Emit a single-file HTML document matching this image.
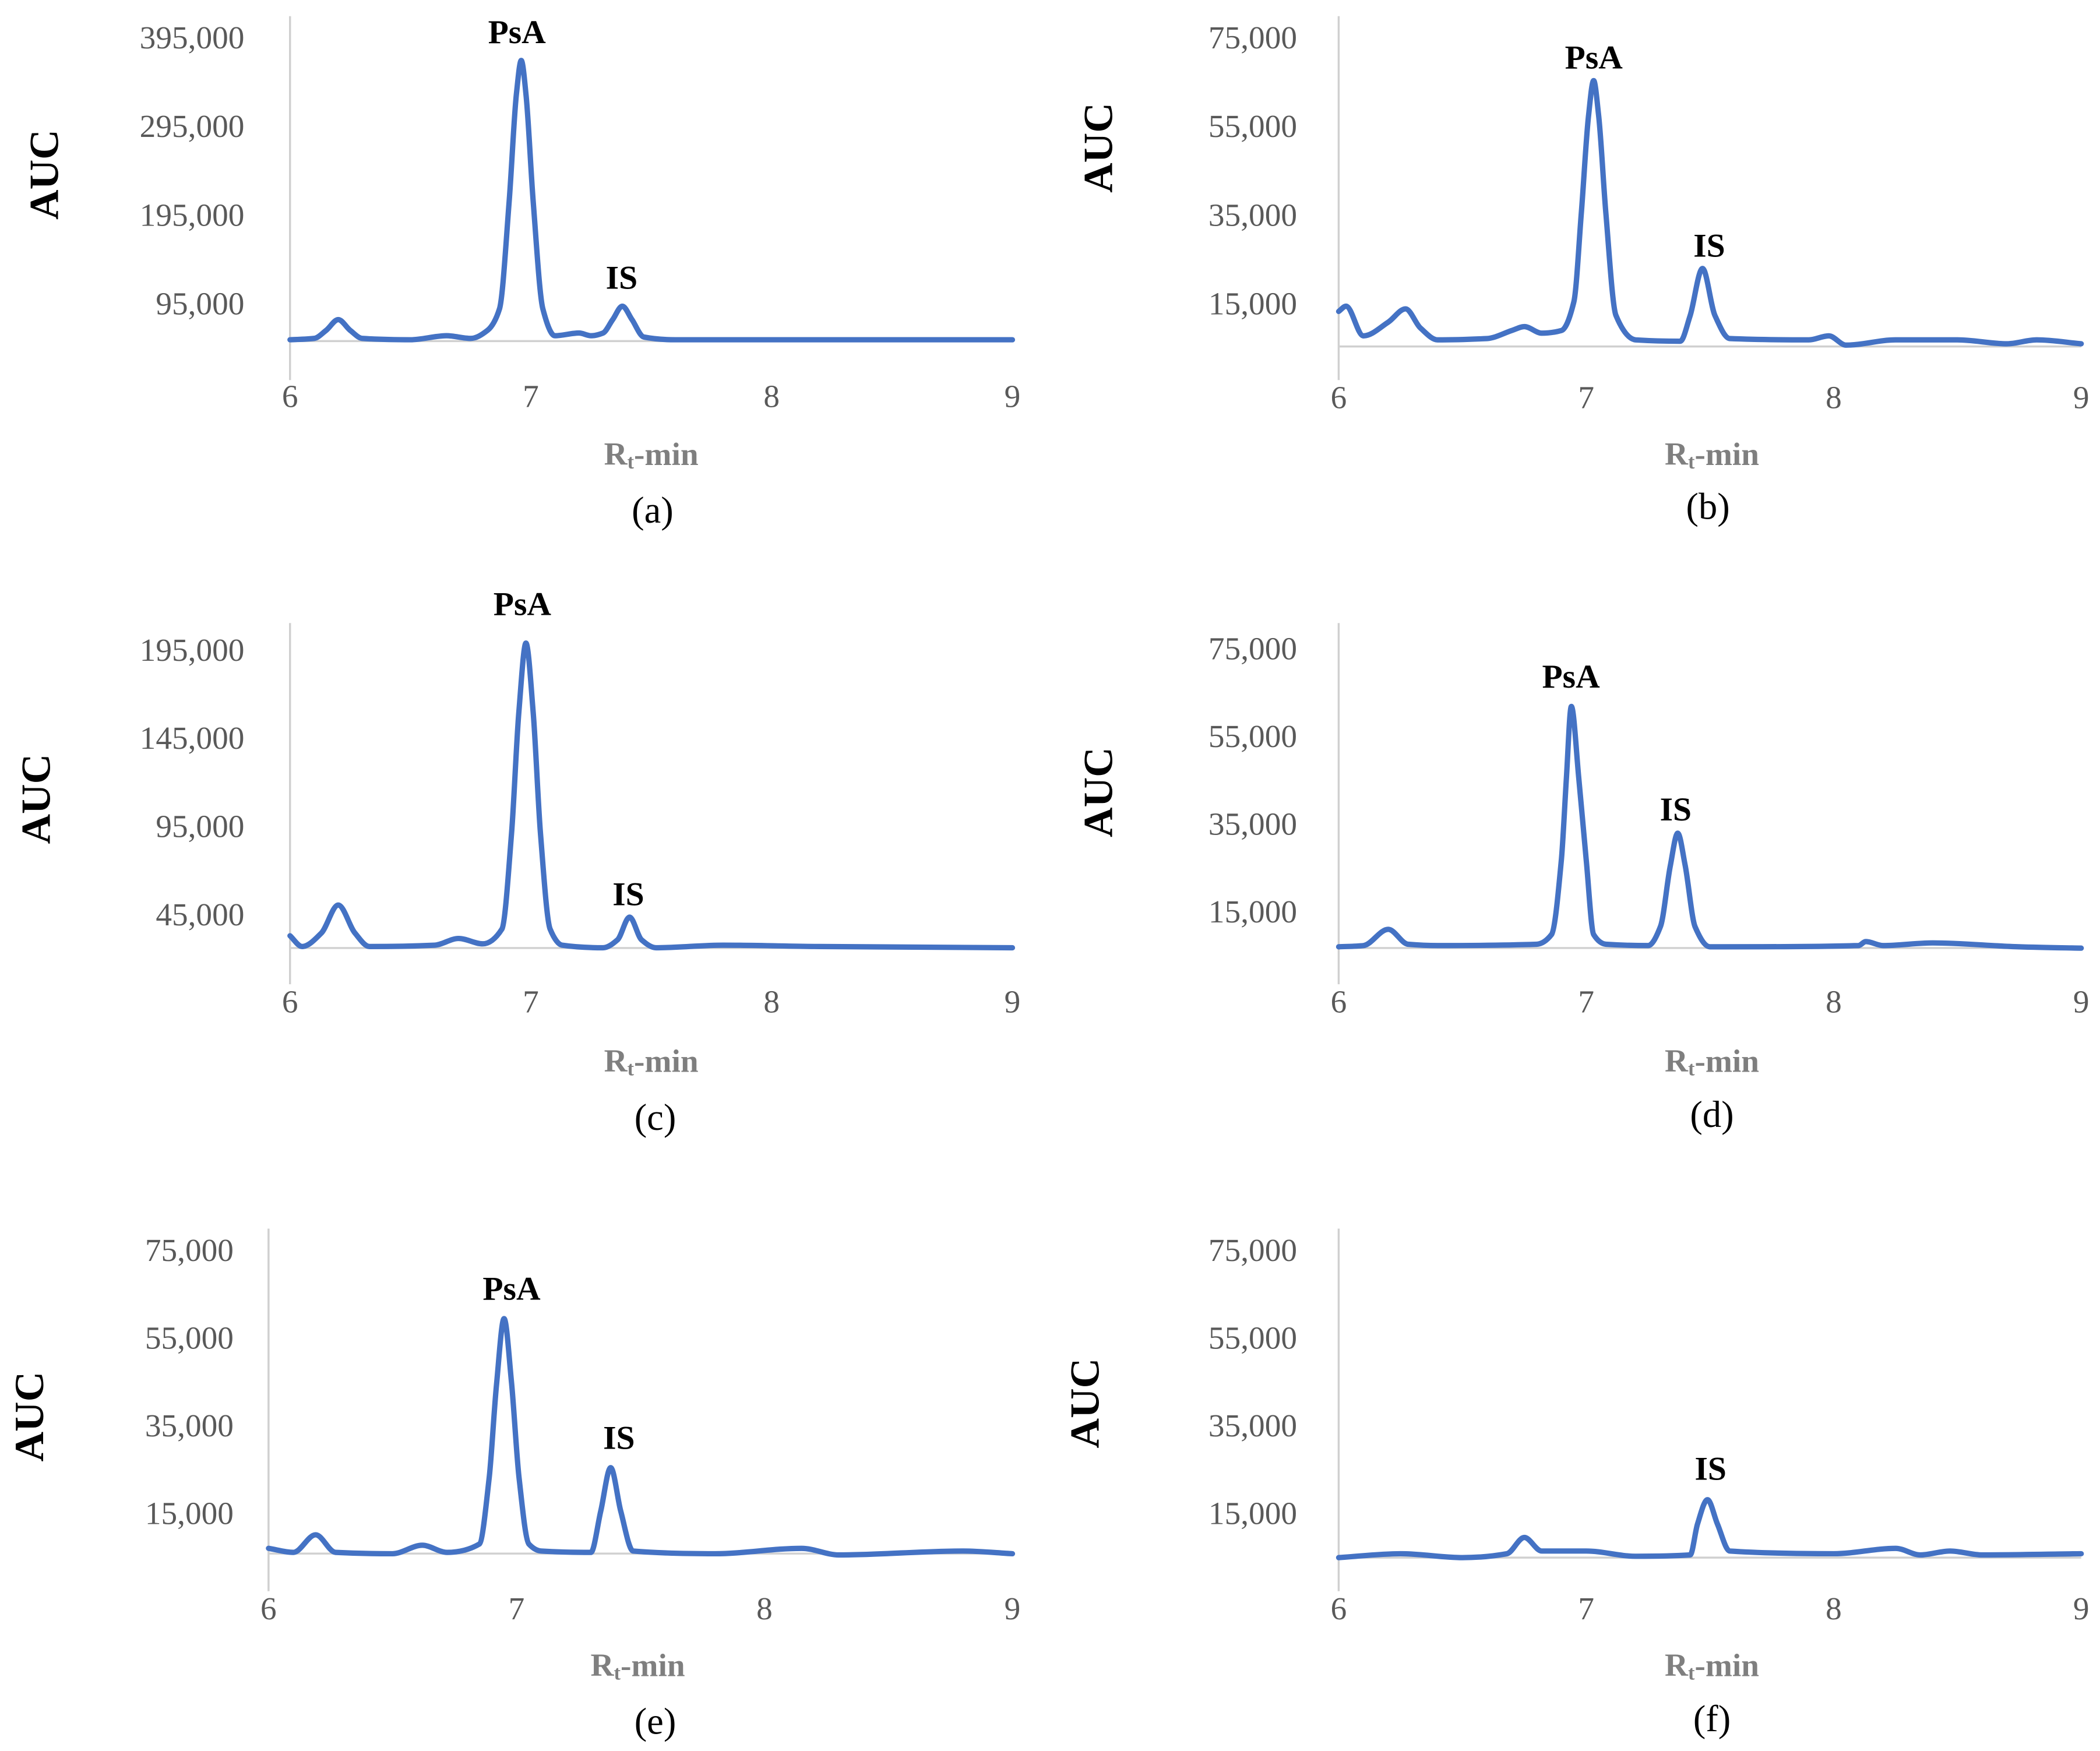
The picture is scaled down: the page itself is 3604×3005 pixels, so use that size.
<!DOCTYPE html>
<html><head><meta charset="utf-8"><style>
html,body{margin:0;padding:0;background:#fff;}
svg{display:block;}
.tick{font-family:"Liberation Serif",serif;font-size:24px;fill:#595959;}
.ttl{font-family:"Liberation Serif",serif;font-weight:bold;font-size:24px;fill:#7f7f7f;}
.cap{font-family:"Liberation Serif",serif;font-size:28px;fill:#000;}
.auc{font-family:"Liberation Serif",serif;font-weight:bold;font-size:31px;fill:#000;}
.pk{font-family:"Liberation Serif",serif;font-weight:bold;font-size:25px;fill:#000;}
</style></head><body>
<svg id="fig" width="3604" height="3005" viewBox="0 0 1564 1304" xmlns="http://www.w3.org/2000/svg"></svg>
<script>
// ---- data (x = retention time min, y = AUC) ----
const xTicks = [6, 7, 8, 9];
const aX = [6.0,6.1,6.15,6.2,6.25,6.3,6.5,6.65,6.75,6.82,6.87,6.91,6.94,6.96,6.98,7.01,7.05,7.1,7.2,7.25,7.3,7.34,7.38,7.42,7.47,7.6,8.0,8.5,9.0];
const aY = [54100,55600,64700,76800,64700,55600,54100,58600,55600,64700,88900,210100,331300,369200,331300,210100,88900,58600,61700,58600,61700,76800,92000,76800,57100,54100,54100,54100,54100];
const aTicks = [95000,195000,295000,395000];
const bX = [6.0,6.03,6.1,6.2,6.27,6.33,6.4,6.6,6.7,6.75,6.82,6.9,6.95,6.98,7.01,7.03,7.05,7.08,7.12,7.2,7.38,7.42,7.47,7.52,7.58,7.9,7.98,8.05,8.25,8.5,8.7,8.82,9.0];
const bY = [13200,14400,7700,10800,13800,9500,6800,7100,8900,9800,8300,8900,15300,35000,57700,65300,57700,35000,12300,6800,6500,12300,22900,12300,7100,6800,7700,5600,6800,6800,5900,6800,5900];
const cX = [6.0,6.05,6.13,6.2,6.27,6.33,6.6,6.7,6.8,6.88,6.92,6.95,6.98,7.01,7.04,7.08,7.13,7.3,7.36,7.41,7.46,7.52,7.8,8.2,9.0];
const cY = [32900,26800,34400,50300,34400,26800,27600,31400,28300,36700,91200,159500,198900,159500,91200,36700,27600,26100,30600,43500,30600,26100,27600,26800,26100];
const cTicks = [45000,95000,145000,195000];
const dX = [6.0,6.1,6.2,6.28,6.4,6.8,6.86,6.9,6.92,6.94,6.97,7.0,7.03,7.08,7.25,7.3,7.34,7.37,7.4,7.44,7.5,8.1,8.13,8.2,8.4,8.75,9.0];
const dY = [7000,7300,11000,7600,7300,7600,9800,27000,45500,61800,45500,27000,9800,7600,7300,11600,25500,32900,25500,11600,7000,7300,8200,7300,7900,7000,6700];
const eX = [6.0,6.1,6.19,6.27,6.5,6.62,6.72,6.85,6.89,6.92,6.95,6.98,7.01,7.05,7.1,7.3,7.34,7.38,7.42,7.47,7.8,8.15,8.3,8.8,9.0];
const eY = [7000,6100,10100,6100,5800,7700,6100,8000,23300,44700,59400,44700,23300,8000,6400,6100,15600,25400,15600,6400,5800,7000,5500,6400,5800];
const fX = [6.0,6.25,6.5,6.68,6.75,6.82,7.0,7.2,7.42,7.45,7.49,7.53,7.58,8.0,8.25,8.35,8.47,8.6,9.0];
const fY = [4900,5800,4900,5800,9500,6400,6400,5200,5500,12600,18100,12600,6400,5800,7000,5500,6400,5500,5800];
const smallTicks = [15000,35000,55000,75000];

const NS = "http://www.w3.org/2000/svg";
const svg = document.getElementById('fig');
function el(tag, attrs, text){
  const e = document.createElementNS(NS, tag);
  for (const k in attrs) e.setAttribute(k, attrs[k]);
  if (text !== undefined) e.textContent = text;
  svg.appendChild(e);
  return e;
}
function fmt(v){ return v.toLocaleString('en-US'); }

function monotonePath(pts){
  const n = pts.length;
  const dx = [], m = [], t = new Array(n);
  for (let i = 0; i < n - 1; i++) { dx.push(pts[i+1][0] - pts[i][0]); m.push((pts[i+1][1] - pts[i][1]) / dx[i]); }
  t[0] = m[0]; t[n-1] = m[n-2];
  for (let i = 1; i < n - 1; i++) {
    if (m[i-1] * m[i] <= 0) t[i] = 0;
    else { const w1 = 2*dx[i] + dx[i-1], w2 = dx[i] + 2*dx[i-1]; t[i] = (w1 + w2) / (w1 / m[i-1] + w2 / m[i]); }
  }
  let d = 'M' + pts[0][0].toFixed(1) + ',' + pts[0][1].toFixed(1);
  for (let i = 0; i < n - 1; i++) {
    const h = dx[i] / 3;
    d += ' C' + (pts[i][0] + h).toFixed(1) + ',' + (pts[i][1] + t[i]*h).toFixed(1) + ' ' +
         (pts[i+1][0] - h).toFixed(1) + ',' + (pts[i+1][1] - t[i+1]*h).toFixed(1) + ' ' +
         pts[i+1][0].toFixed(1) + ',' + pts[i+1][1].toFixed(1);
  }
  return d;
}

const panels = [
  {id:'a', xs:aX, ys:aY, ticks:aTicks, ax:216, xe:754, t0:95000, y0:226, t1:395000, y1:28, top:12, bot:283, base:254, tickY:295, lblOff:34, rtX:485, rtY:338, capX:486, capY:380, aucX:33, aucY:130, psa:[385,24], is:[463,207]},
  {id:'b', xs:bX, ys:bY, ticks:smallTicks, ax:997, xe:1550, t0:15000, y0:226, t1:75000, y1:28, top:12, bot:283, base:258, tickY:296, lblOff:31, rtX:1275, rtY:338, capX:1272, capY:377, aucX:818, aucY:110, psa:[1187,43], is:[1273,183]},
  {id:'c', xs:cX, ys:cY, ticks:cTicks, ax:216, xe:754, t0:45000, y0:681, t1:195000, y1:484, top:464, bot:733, base:706, tickY:746, lblOff:34, rtX:485, rtY:790, capX:488, capY:832, aucX:27, aucY:595, psa:[389,450], is:[468,666]},
  {id:'d', xs:dX, ys:dY, ticks:smallTicks, ax:997, xe:1550, t0:15000, y0:679, t1:75000, y1:483, top:464, bot:733, base:706, tickY:746, lblOff:31, rtX:1275, rtY:790, capX:1275, capY:830, aucX:818, aucY:590, psa:[1170,504], is:[1248,603]},
  {id:'e', xs:eX, ys:eY, ticks:smallTicks, ax:200, xe:754, t0:15000, y0:1127, t1:75000, y1:931, top:915, bot:1185, base:1157, tickY:1198, lblOff:26, rtX:475, rtY:1240, capX:488, capY:1282, aucX:22, aucY:1055, psa:[381,960], is:[461,1071]},
  {id:'f', xs:fX, ys:fY, ticks:smallTicks, ax:997, xe:1550, t0:15000, y0:1127, t1:75000, y1:931, top:915, bot:1185, base:1160, tickY:1198, lblOff:31, rtX:1275, rtY:1240, capX:1275, capY:1280, aucX:808, aucY:1045, psa:null, is:[1274,1094]}
];

panels.forEach(p => {
  const X = v => p.ax + (v - 6) / 3 * (p.xe - p.ax);
  const Y = v => p.y0 + (v - p.t0) / (p.t1 - p.t0) * (p.y1 - p.y0);
  let e;
  e = el('line', {x1:p.ax, y1:p.top, x2:p.ax, y2:p.bot, stroke:'#d0d0d0', 'stroke-width':1.5});
  
  
  e = el('line', {x1:p.ax, y1:p.base, x2:p.xe, y2:p.base, stroke:'#d0d0d0', 'stroke-width':1.5});
  
  
  p.ticks.forEach(t => {
    e = el('text', {x:p.ax - p.lblOff, y:Y(t), class:'tick', 'text-anchor':'end', 'dominant-baseline':'central'}, fmt(t));
    
    
  });
  xTicks.forEach(t => {
    e = el('text', {x:X(t), y:p.tickY, class:'tick', 'text-anchor':'middle', 'dominant-baseline':'central'}, String(t));
    
    
  });
  const pts = p.xs.map((x, i) => [X(x), Y(p.ys[i])]);
  e = el('path', {d:monotonePath(pts), fill:'none', stroke:'#4472C4', 'stroke-width':4, 'stroke-linejoin':'round', 'stroke-linecap':'round'});
  
  
  e = el('text', {x:p.rtX, y:p.rtY, class:'ttl', 'text-anchor':'middle', 'dominant-baseline':'central'});
  
  
  e.innerHTML = 'R<tspan font-size="15" dy="6">t</tspan><tspan dy="-6">-min</tspan>';
  e = el('text', {x:p.capX, y:p.capY, class:'cap', 'text-anchor':'middle', 'dominant-baseline':'central'}, '(' + p.id + ')');
  
  
  e = el('text', {x:p.aucX, y:p.aucY, class:'auc', 'text-anchor':'middle', 'dominant-baseline':'central', transform:'rotate(-90 ' + p.aucX + ' ' + p.aucY + ')'}, 'AUC');
  
  
  if (p.psa) {
    e = el('text', {x:p.psa[0], y:p.psa[1], class:'pk', 'text-anchor':'middle', 'dominant-baseline':'central'}, 'PsA');
    
    
  }
  e = el('text', {x:p.is[0], y:p.is[1], class:'pk', 'text-anchor':'middle', 'dominant-baseline':'central'}, 'IS');
  
  
});
</script>
</body></html>
